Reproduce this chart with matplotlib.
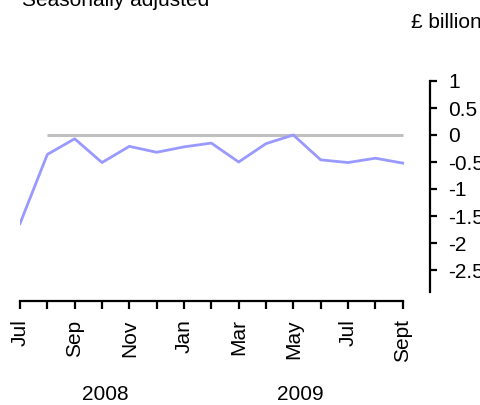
import matplotlib.pyplot as plt

plt.rcParams['font.family'] = ['Liberation Sans', 'DejaVu Sans']

months = ["Jul", "", "Sep", "", "Nov", "", "Jan", "", "Mar", "", "May", "", "Jul", "", "Sept"]
values = [-1.64, -0.36, -0.07, -0.51, -0.21, -0.32, -0.22, -0.15, -0.50, -0.16, 0.0,
          -0.46, -0.51, -0.43, -0.52]
zero_line = [0.0] * 14
years = ["2008", "2009"]
yticks = [1, 0.5, 0, -0.5, -1, -1.5, -2, -2.5]
ytick_labels = ["1", "0.5", "0", "-0.5", "-1", "-1.5", "-2", "-2.5"]

fs = 15

fig = plt.figure(figsize=(4.8, 4.05), dpi=100)
ax = fig.add_axes([20 / 480, 1 - 291.6 / 405, 410 / 480, 210.6 / 405])

x = list(range(len(values)))
ax.plot(x[1:], zero_line, color="#c0c0c0", lw=2.2, solid_capstyle="butt")
ax.plot(x, values, color="#9999ff", lw=2.0)

ax.set_xlim(0, 15)
ax.set_ylim(-2.9, 1)

ax.spines["top"].set_visible(False)
ax.spines["left"].set_visible(False)
ax.spines["bottom"].set_position(("outward", 7))
ax.spines["bottom"].set_bounds(0, 14)
ax.spines["bottom"].set_linewidth(1.6)
ax.spines["right"].set_linewidth(1.6)

ax.set_xticks(x)
ax.set_xticklabels(months, rotation=90, fontsize=fs)
ax.tick_params(axis="x", direction="out", length=6, width=1.6, pad=7)

ax.yaxis.tick_right()
ax.set_yticks(yticks)
ax.set_yticklabels(ytick_labels, fontsize=fs)
ax.tick_params(axis="y", direction="out", length=5, width=1.6, pad=8)

fig.text(105 / 480, 1 - 400 / 405, years[0], ha="center", va="baseline", fontsize=fs)
fig.text(300 / 480, 1 - 400 / 405, years[1], ha="center", va="baseline", fontsize=fs)

fig.text(22 / 480, 1 - 6 / 405, "Seasonally adjusted", ha="left", va="baseline", fontsize=fs)
fig.text(411 / 480, 1 - 28 / 405, "£ billion", ha="left", va="baseline", fontsize=fs)

fig.savefig("out.png", dpi=100)
